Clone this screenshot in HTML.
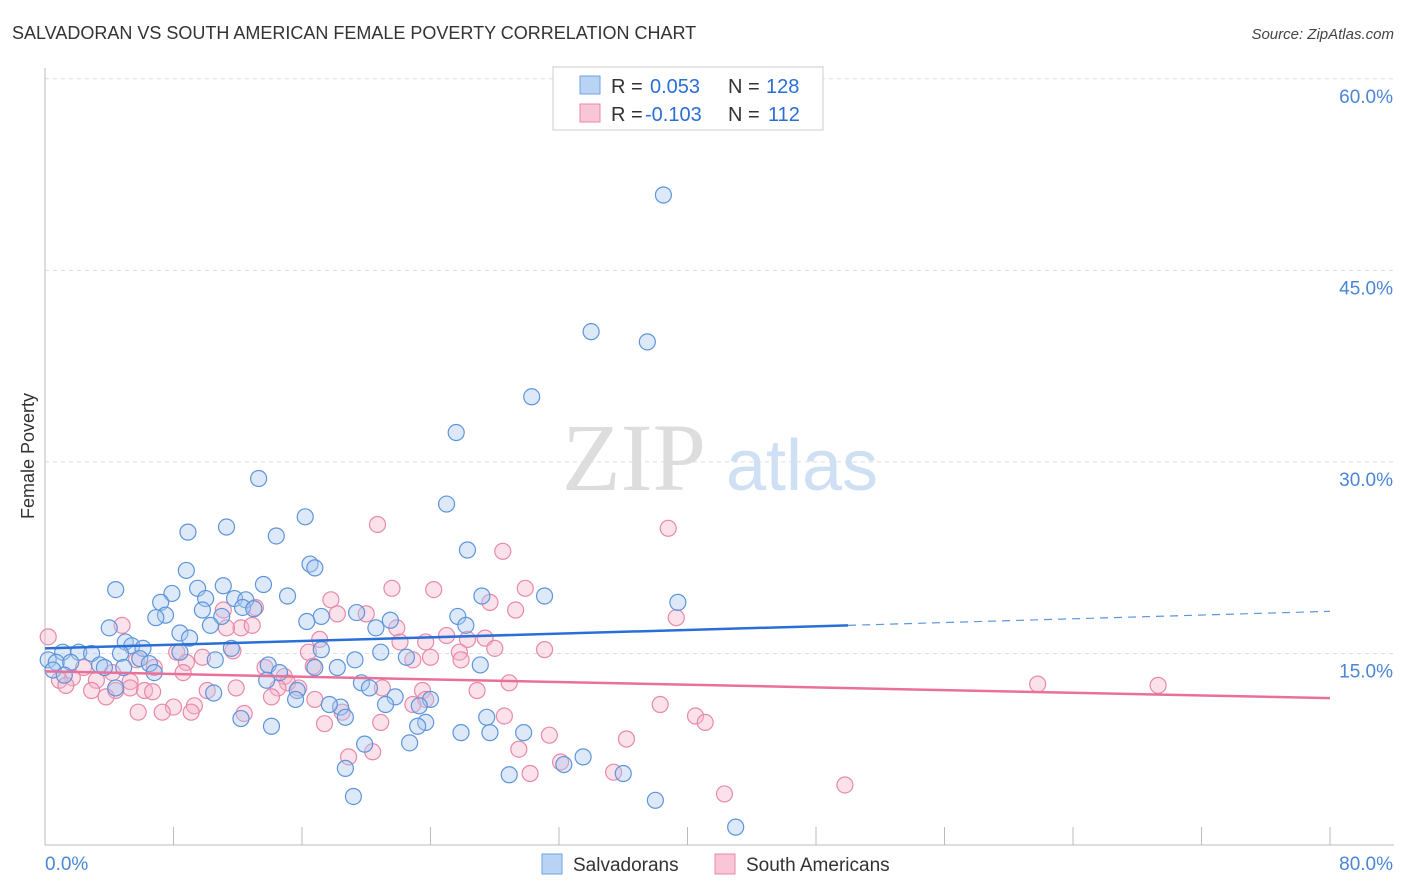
<!DOCTYPE html>
<html><head><meta charset="utf-8">
<style>
body{margin:0;background:#fff;font-family:"Liberation Sans",sans-serif;}
svg{display:block}
</style></head>
<body>
<svg id="chart" width="1406" height="892" xmlns="http://www.w3.org/2000/svg">
<text x="12" y="39" font-size="18" fill="#333" font-family="Liberation Sans">SALVADORAN VS SOUTH AMERICAN FEMALE POVERTY CORRELATION CHART</text>
<text x="1394" y="39" font-size="15" fill="#444" text-anchor="end" font-style="italic">Source: ZipAtlas.com</text>
<text transform="translate(34,456) rotate(-90)" font-size="18" fill="#333" text-anchor="middle">Female Poverty</text>
<g>
<text x="634" y="490" font-size="96" fill="#ddd" text-anchor="middle" font-family="Liberation Serif">ZIP</text>
<text x="802" y="490" font-size="72" fill="#cfe0f5" text-anchor="middle">atlas</text>
</g>
<g id="grid"></g>
<g id="axes"></g>
<g id="pts"></g>
<g id="trends"></g>
<g>
<rect x="553" y="67" width="270" height="63" fill="#fff" stroke="#ccc"/>
<rect x="580" y="76" width="20" height="18" fill="#b9d3f5" stroke="#6fa3e0"/>
<text x="611" y="93" font-size="20" fill="#333">R = </text>
<text x="650" y="93" font-size="20" fill="#2a6fd6">0.053</text>
<text x="728" y="93" font-size="20" fill="#333">N = </text>
<text x="766" y="93" font-size="20" fill="#2a6fd6">128</text>
<rect x="580" y="104" width="20" height="18" fill="#f8c6d6" stroke="#e989a9"/>
<text x="611" y="121" font-size="20" fill="#333">R = </text>
<text x="645" y="121" font-size="20" fill="#2a6fd6">-0.103</text>
<text x="728" y="121" font-size="20" fill="#333">N = </text>
<text x="768" y="121" font-size="20" fill="#2a6fd6">112</text>
</g>
<g>
<rect x="542" y="854" width="20" height="20" fill="#b9d3f5" stroke="#6fa3e0"/>
<text x="573" y="871" font-size="19" fill="#333">Salvadorans</text>
<rect x="715" y="854" width="20" height="20" fill="#f8c6d6" stroke="#e989a9"/>
<text x="746" y="871" font-size="19" fill="#333">South Americans</text>
</g>
</svg>
<script>
const xTicks=[0,8,16,24,32,40,48,56,64,72,80];
const yTicks=[15,30,45,60];
const yTickLabels=["15.0%","30.0%","45.0%","60.0%"];
const blueX=[38.5,34.0,37.5,30.3,25.6,13.3,25.0,16.2,11.3,8.9,14.4,26.3,16.5,8.8,16.8,4.4,13.6,11.1,9.5,7.9,15.1,27.2,31.1,7.2,10.0,11.8,12.5,39.4,12.3,13.0,19.4,9.8,7.5,6.9,11.0,17.2,25.7,21.5,16.3,26.2,10.3,20.6,4.0,8.4,9.0,5.0,5.4,6.1,11.6,17.2,20.9,8.4,1.1,2.1,2.9,4.7,22.5,5.9,10.6,19.3,0.2,0.7,1.6,3.4,6.5,13.9,27.1,3.7,4.9,16.8,18.2,6.8,14.6,0.5,1.2,13.8,19.7,20.2,15.7,4.4,10.5,21.8,15.6,24.0,21.2,18.4,17.7,23.3,18.7,27.5,12.2,14.1,23.7,23.2,25.9,27.7,29.8,19.9,22.7,33.5,32.3,18.7,28.9,36.0,19.2,38.0,43.0];
const blueY=[50.9,40.2,39.4,35.1,32.3,28.7,26.7,25.7,24.9,24.5,24.2,23.1,22.0,21.5,21.7,20.0,20.4,20.3,20.1,19.7,19.5,19.5,19.5,19.0,19.3,19.3,19.2,19.0,18.6,18.5,18.2,18.4,18.0,17.8,17.9,17.9,17.9,17.6,17.5,17.2,17.2,17.0,17.0,16.6,16.2,15.9,15.6,15.4,15.4,15.3,15.1,15.1,15.1,15.1,15.0,15.0,14.7,14.6,14.5,14.5,14.5,14.3,14.3,14.1,14.2,14.1,14.1,13.9,13.9,13.9,13.9,13.5,13.5,13.7,13.3,12.9,12.7,12.3,12.1,12.3,11.9,11.6,11.4,11.4,11.0,10.8,11.0,10.9,10.0,10.0,9.9,9.3,9.6,9.3,8.8,8.8,8.8,7.9,8.0,6.9,6.3,6.0,5.5,5.6,3.8,3.5,1.4];
const pinkX=[20.7,38.8,28.5,21.6,24.2,29.9,27.7,17.8,13.1,29.3,11.1,18.2,20.0,39.3,21.9,4.8,12.2,12.9,11.3,17.1,22.1,23.7,26.3,27.4,25.0,0.2,31.1,28.0,25.8,16.4,11.7,8.2,24.0,9.8,25.9,22.9,5.7,8.8,13.7,16.7,6.8,2.4,8.6,4.2,14.9,1.7,0.9,3.2,5.3,15.1,28.9,61.8,69.3,1.3,14.5,5.3,11.9,15.8,21.0,23.5,26.9,2.9,10.1,6.2,4.4,6.7,14.1,3.8,23.7,16.8,38.3,22.9,9.3,8.0,5.8,7.3,9.1,12.4,18.5,28.6,40.5,41.1,17.4,20.9,31.4,36.2,29.5,20.4,18.9,32.1,30.2,35.4,49.8,42.3];
const pinkY=[25.1,24.8,23.0,20.1,20.0,20.1,19.0,19.2,18.6,18.4,18.4,18.1,18.1,17.8,17.0,17.2,17.0,17.2,17.0,16.1,15.9,15.9,16.1,16.2,16.4,16.3,15.3,15.4,15.1,15.1,15.2,15.1,14.7,14.7,14.5,14.5,14.5,14.3,13.9,14.0,13.9,13.9,13.5,13.5,13.2,13.1,12.9,12.9,12.8,12.7,12.7,12.6,12.5,12.5,12.3,12.3,12.3,12.3,12.3,12.1,12.1,12.1,12.1,12.1,12.1,12.0,11.6,11.6,11.4,11.4,11.0,11.0,10.9,10.8,10.4,10.4,10.4,10.3,10.4,10.1,10.1,9.6,9.5,9.6,8.6,8.3,7.5,7.3,6.9,6.5,5.6,5.7,4.7,4.0];
const blueTrend=[[0,15.4],[50,17.2],[80,18.3]];
const pinkTrend=[[0,13.6],[80,11.5]];
const NS="http://www.w3.org/2000/svg";
const X=v=>45+v*16.0625, Y=v=>845-v*12.77;
function mk(tag,at,parent){const e=document.createElementNS(NS,tag);for(const k in at)e.setAttribute(k,at[k]);parent.appendChild(e);return e;}
const grid=document.getElementById('grid'),axes=document.getElementById('axes'),pts=document.getElementById('pts'),tr=document.getElementById('trends');
yTicks.forEach((t,i)=>{
 const l=mk('line',{x1:45,x2:1394,y1:Y(t),y2:Y(t),stroke:'#ddd','stroke-dasharray':'4,4'},grid);
 
 
 const tx=mk('text',{x:1393,y:Y(t)+24,'font-size':19,fill:'#4a86d8','text-anchor':'end'},axes);
 tx.textContent=yTickLabels[i];
 
 
});
const ax=mk('line',{x1:45,x2:1394,y1:845,y2:845,stroke:'#bbb'},axes);


const ay=mk('line',{x1:45,x2:45,y1:68,y2:845,stroke:'#bbb'},axes);


xTicks.forEach(t=>{
 const l=mk('line',{x1:X(t),x2:X(t),y1:827,y2:845,stroke:'#bbb'},axes);
 
 
});
const xl0=mk('text',{x:45,y:870,'font-size':19,fill:'#4a86d8'},axes);xl0.textContent='0.0%';


const xl1=mk('text',{x:1393,y:870,'font-size':19,fill:'#4a86d8','text-anchor':'end'},axes);xl1.textContent='80.0%';


function dots(xs,ys,fill,stroke,name){xs.forEach((v,i)=>{
 const c=mk('circle',{cx:X(v),cy:Y(ys[i]),r:8,fill:fill,'fill-opacity':0.4,stroke:stroke,'stroke-width':1.2},pts);
 
 
});}
dots(pinkX,pinkY,'#f5b3c8','#e989a9','south-american-point');
dots(blueX,blueY,'#a9c8f0','#5d95dc','salvadoran-point');
const b1=mk('line',{x1:X(blueTrend[0][0]),y1:Y(blueTrend[0][1]),x2:X(blueTrend[1][0]),y2:Y(blueTrend[1][1]),stroke:'#2a6fd6','stroke-width':2.5},tr);


const b2=mk('line',{x1:X(blueTrend[1][0]),y1:Y(blueTrend[1][1]),x2:X(blueTrend[2][0]),y2:Y(blueTrend[2][1]),stroke:'#5d95dc','stroke-width':1.2,'stroke-dasharray':'8,6'},tr);


const p1=mk('line',{x1:X(pinkTrend[0][0]),y1:Y(pinkTrend[0][1]),x2:X(pinkTrend[1][0]),y2:Y(pinkTrend[1][1]),stroke:'#e8709a','stroke-width':2.5},tr);


</script>
</body></html>
